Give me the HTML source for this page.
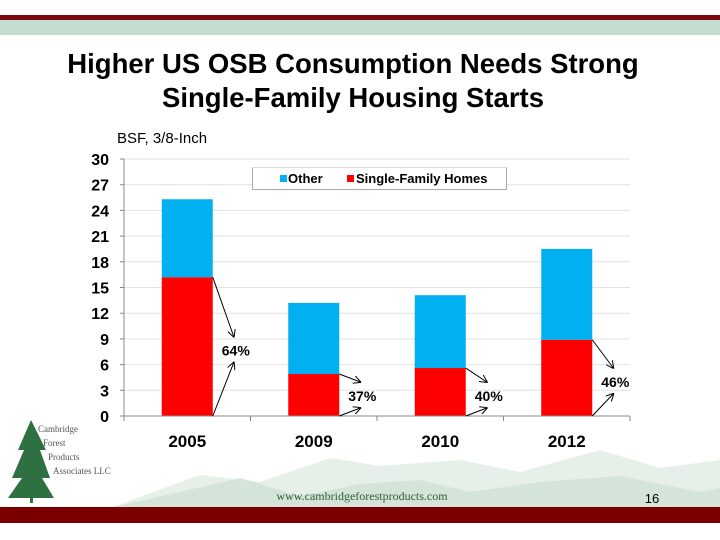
<!DOCTYPE html>
<html><head><meta charset="utf-8"><style>
body{margin:0;width:720px;height:540px;overflow:hidden;background:#fff;font-family:"Liberation Sans",sans-serif;position:relative}
.abs{position:absolute}
</style></head><body>
<div class="abs" style="left:0;top:15px;width:720px;height:5px;background:#7a0a0a"></div>
<div class="abs" style="left:0;top:20px;width:720px;height:15px;background:#c4ddd1"></div>
<div class="abs" style="left:0;top:47px;width:706px;text-align:center;font-size:27.5px;font-weight:bold;line-height:34px;color:#000">Higher US OSB Consumption Needs Strong<br>Single-Family Housing Starts</div>
<div class="abs" style="left:117px;top:130px;font-size:15px">BSF, 3/8-Inch</div>
<svg class="abs" style="left:0;top:0" width="720" height="540">
<g id="bg">
<polygon points="110,508 200,475 260,482 330,458 380,466 460,460 520,472 600,450 660,468 720,460 720,508" fill="#e6efe8"/>
<polygon points="110,508 180,492 240,478 300,496 360,484 420,480 470,492 540,482 620,476 700,492 720,488 720,508" fill="#d5e4d8"/>
</g>
<g id="grid"></g><g id="bars"></g><g id="axes"></g><g id="ann"></g>
<defs><marker id="ah" markerWidth="8" markerHeight="8" refX="7" refY="4" orient="auto"><path d="M0,0 L8,4 L0,8" fill="none" stroke="#000" stroke-width="1"/></marker></defs>
<g>
<rect x="30" y="425" width="3" height="78" fill="#2e7042"/>
<polygon points="31,420 18,450 24,450 12,478 22,478 8,498 54,498 42,478 50,478 40,450 46,450" fill="#2e7042"/>
<text x="38" y="432" font-family="Liberation Serif" font-size="9" fill="#555">Cambridge</text>
<text x="43" y="446" font-family="Liberation Serif" font-size="9" fill="#555">Forest</text>
<text x="48" y="460" font-family="Liberation Serif" font-size="9" fill="#555">Products</text>
<text x="53" y="474" font-family="Liberation Serif" font-size="9" fill="#555">Associates LLC</text>
</g>
<text x="362" y="500" text-anchor="middle" font-family="Liberation Serif" font-size="12" fill="#2f5e3b">www.cambridgeforestproducts.com</text>
<text x="652" y="503" text-anchor="middle" font-size="13" fill="#000">16</text>
</svg>
<div class="abs" style="left:0;top:507px;width:720px;height:16px;background:#7a0000"></div>
<div class="abs" style="left:252px;top:167px;width:253px;height:21px;border:1px solid #aaa;border-top:1px solid #ddd;background:#fff;font-size:13px;font-weight:bold;line-height:21px">
<span style="position:absolute;left:27px;top:7px;width:7px;height:7px;background:#00b0f0"></span><span style="position:absolute;left:35px">Other</span>
<span style="position:absolute;left:94px;top:7px;width:7px;height:7px;background:#f00"></span><span style="position:absolute;left:103px">Single-Family Homes</span>
</div>
<script>
const categories=["2005","2009","2010","2012"];
const singleFamily=[16.2,4.9,5.6,8.9];
const other=[9.1,8.3,8.5,10.6];
const shareLabels=["64%","37%","40%","46%"];
const yTicks=[0,3,6,9,12,15,18,21,24,27,30];
const NS="http://www.w3.org/2000/svg";
const x0=124,x1=630,y0=416,yTop=159,yMax=30;
const Y=v=>y0-(y0-yTop)*v/yMax;
const bandW=(x1-x0)/categories.length;
const X=i=>x0+bandW*(i+0.5);
const bw=51;
function mk(tag,attrs,parent){const e=document.createElementNS(NS,tag);for(const k in attrs)e.setAttribute(k,attrs[k]);document.getElementById(parent).appendChild(e);return e;}
yTicks.forEach(t=>{
 if(t>0){const g=mk('line',{x1:x0,x2:x1,y1:Y(t),y2:Y(t),stroke:'#dde3e6','stroke-width':1},'grid');
 
 }
 const tk=mk('line',{x1:x0-4,x2:x0,y1:Y(t),y2:Y(t),stroke:'#888'},'axes');
 
 
 const tl=mk('text',{x:x0-15,y:Y(t)+6,'text-anchor':'end','font-size':16,'font-weight':'bold','font-family':'Liberation Sans'},'axes');
 tl.textContent=t;
 
 
});
const ya=mk('line',{x1:x0,x2:x0,y1:yTop,y2:y0,stroke:'#888'},'axes');


const xa=mk('line',{x1:x0,x2:x1,y1:y0,y2:y0,stroke:'#888'},'axes');


for(let i=0;i<=categories.length;i++){const t=mk('line',{x1:x0+bandW*i,x2:x0+bandW*i,y1:y0,y2:y0+5,stroke:'#888'},'axes');
 
 }
categories.forEach((c,i)=>{
 const cx=X(i),l=cx-bw/2,r=cx+bw/2;
 const rs=mk('rect',{x:l,y:Y(singleFamily[i]),width:bw,height:y0-Y(singleFamily[i]),fill:'#ff0000'},'bars');
 
 
 const tot=singleFamily[i]+other[i];
 const ro=mk('rect',{x:l,y:Y(tot),width:bw,height:Y(singleFamily[i])-Y(tot),fill:'#00b0f0'},'bars');
 
 
 const xl=mk('text',{x:cx,y:447,'text-anchor':'middle','font-size':17,'font-weight':'bold','font-family':'Liberation Sans'},'axes');
 xl.textContent=c;
 
 
 const yS=Y(singleFamily[i]);
 const ly=Math.min((yS+y0)/2+4,y0-20);
 const ax=r+21;
 const a1=mk('line',{x1:r,y1:yS,x2:ax,y2:ly-14,stroke:'#000','stroke-width':1,'marker-end':'url(#ah)'},'ann');
 
 
 const a2=mk('line',{x1:r,y1:y0,x2:ax,y2:ly+12,stroke:'#000','stroke-width':1,'marker-end':'url(#ah)'},'ann');
 
 
 const sl=mk('text',{x:r+9,y:ly+5,'font-size':14,'font-weight':'bold','font-family':'Liberation Sans'},'ann');
 sl.textContent=shareLabels[i];
 
 
});
</script>
</body></html>
